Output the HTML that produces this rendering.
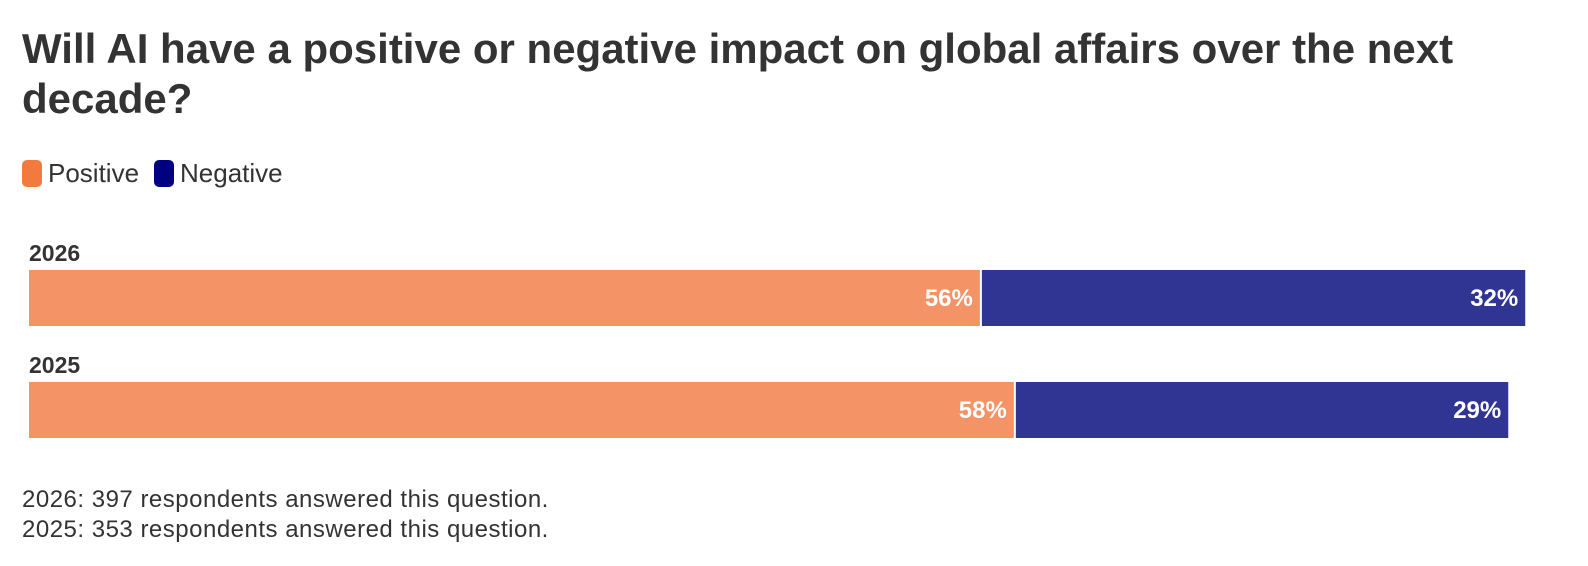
<!DOCTYPE html>
<html><head><meta charset="utf-8"><style>
body{margin:0;background:#fff;width:1588px;height:566px;overflow:hidden;font-family:"Liberation Sans",sans-serif;color:#333}
#title{position:absolute;left:22px;top:24px;width:1480px;font-size:42px;font-weight:bold;line-height:50px;color:#333;margin:0}
.leg{position:absolute;top:158px;font-size:26px;display:flex;align-items:center}
.sw{width:20px;height:27px;border-radius:5px;margin-right:6px}
.foot{position:absolute;left:22px;font-size:24px;letter-spacing:0.5px;color:#333}
</style></head><body>
<h1 id="title">Will AI have a positive or negative impact on global affairs over the next decade?</h1>
<div class="leg" style="left:22px"><div class="sw" style="background:#F37A3F"></div>Positive</div>
<div class="leg" style="left:154px"><div class="sw" style="background:#000080"></div>Negative</div>
<svg id="chart" width="1588" height="566" style="position:absolute;left:0;top:0"></svg>
<div class="foot" style="top:486px">2026: 397 respondents answered this question.</div>
<div class="foot" style="top:516px">2025: 353 respondents answered this question.</div>
<script>
const categories=["2026","2025"];
const positive=[56,58];
const negative=[32,29];
const svg=document.getElementById('chart');
const NS='http://www.w3.org/2000/svg';
const x0=29, pxPer=16.98;
function xs(v){return v*pxPer;}
function rowY(i){return 270+i*112;}
const H=56;
categories.forEach((c,i)=>{
  const y=rowY(i);
  const t=document.createElementNS(NS,'text');
  t.setAttribute('x',x0);t.setAttribute('y',y-9);
  t.setAttribute('font-size','23');t.setAttribute('font-weight','bold');t.setAttribute('fill','#333');
  t.setAttribute('font-family','Liberation Sans, sans-serif');
  t.textContent=c;
  
  
  svg.appendChild(t);
  const pw=xs(positive[i]);
  const r1=document.createElementNS(NS,'rect');
  r1.setAttribute('x',x0);r1.setAttribute('y',y);r1.setAttribute('width',pw);r1.setAttribute('height',H);r1.setAttribute('fill','#F39366');
  
  
  svg.appendChild(r1);
  const nx=x0+pw+2, nw=xs(negative[i]);
  const r2=document.createElementNS(NS,'rect');
  r2.setAttribute('x',nx);r2.setAttribute('y',y);r2.setAttribute('width',nw);r2.setAttribute('height',H);r2.setAttribute('fill','#303593');
  
  
  svg.appendChild(r2);
  [[x0+pw-7,positive[i],'positive'],[nx+nw-7,negative[i],'negative']].forEach(([lx,v,k])=>{
    const l=document.createElementNS(NS,'text');
    l.setAttribute('x',lx);l.setAttribute('y',y+H/2+8);l.setAttribute('text-anchor','end');
    l.setAttribute('font-size','24');l.setAttribute('font-weight','bold');l.setAttribute('fill','#fff');
    l.setAttribute('font-family','Liberation Sans, sans-serif');
    l.textContent=v+'%';
    
    
    svg.appendChild(l);
  });
});
</script>
</body></html>
